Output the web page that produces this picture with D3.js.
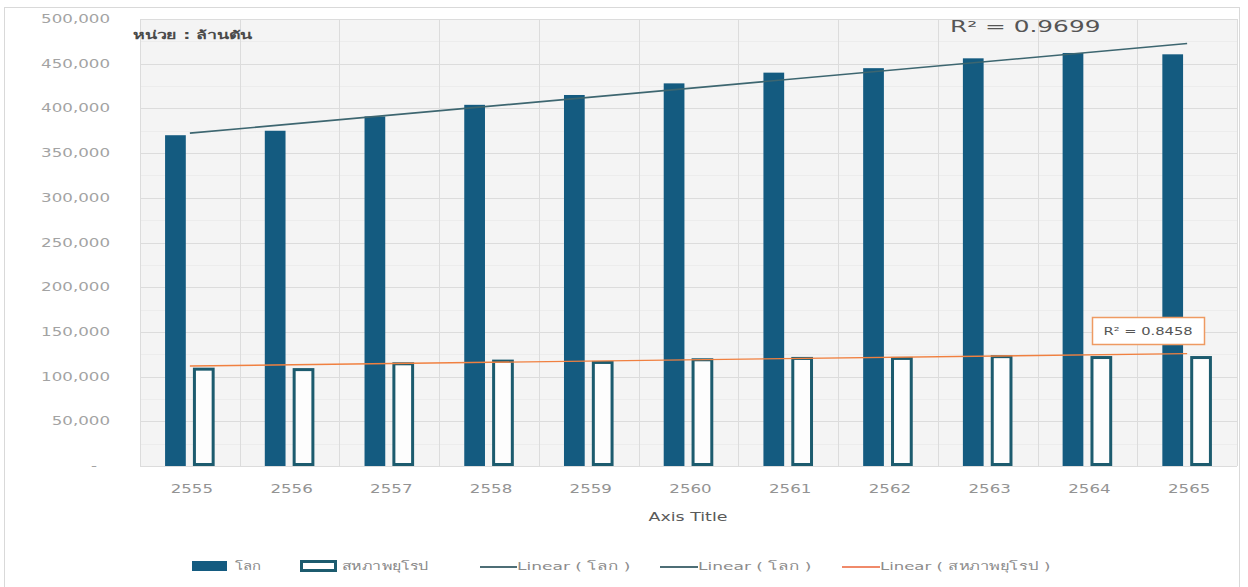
<!DOCTYPE html>
<html><head><meta charset="utf-8">
<script src="https://cdn.jsdelivr.net/npm/d3@7"></script>
<style>
html,body{margin:0;padding:0;background:#fff;}
text{font-family:"DejaVu Sans","Noto Sans",sans-serif;}
</style></head>
<body>
<svg id="chart" width="1248" height="587"></svg>
<script>
// ---- data ----
const years = ["2555","2556","2557","2558","2559","2560","2561","2562","2563","2564","2565"];
const worldValues = [370000,375000,391000,404000,415000,428000,440000,445000,456000,462000,460500];
const euValues = [110000,109500,116000,119000,117500,120500,122000,122000,124000,123000,123000];
const yTicks = [0,50000,100000,150000,200000,250000,300000,350000,400000,450000,500000];
const seriesNames = ["โลก","สหภาพยุโรป"];
const legendLabels = ["โลก","สหภาพยุโรป","Linear ( โลก )","Linear ( โลก )","Linear ( สหภาพยุโรป )"];
const r2World = "R² = 0.9699";
const r2Eu = "R² = 0.8458";
const unitLabel = "หน่วย : ล้านตัน";
const xTitle = "Axis Title";

const svg = d3.select("#chart");
const plot = {l:140, r:1237, t:19, b:466};
const SX = 1.45; // horizontal text stretch

const x = d3.scaleBand().domain(years).range([plot.l, plot.r]).padding(0);
const xi = d3.scaleBand().domain(seriesNames).range([0, x.bandwidth()]).paddingInner(0.22).paddingOuter(0.9);
const y = d3.scaleLinear().domain([0,500000]).range([plot.b, plot.t]);

function stext(g, tx, ty, str, opts){
  const t = g.append("text")
    .attr("transform", `translate(${tx},${ty}) scale(${opts.sx||SX},1)`)
    .attr("text-anchor", opts.anchor||"start")
    .attr("dominant-baseline","central")
    .attr("font-size", opts.size||11.5)
    .attr("fill", opts.fill||"#8c8c8c")
    .text(str);
  if(opts.weight) t.attr("font-weight", opts.weight);
  return t;
}

// outer border
svg.append("rect").attr("x",4.5).attr("y",7.5).attr("width",1235).attr("height",600)
  .attr("fill","#fff").attr("stroke","#d9d9d9");

// plot background
svg.append("rect").attr("x",plot.l).attr("y",plot.t).attr("width",plot.r-plot.l).attr("height",plot.b-plot.t)
  .attr("fill","#f4f4f4");

// minor horizontal grid
const gGrid = svg.append("g");
d3.range(25000,500000,50000).forEach(v=>{
  gGrid.append("line").attr("x1",plot.l).attr("x2",plot.r).attr("y1",Math.round(y(v))+0.5).attr("y2",Math.round(y(v))+0.5)
    .attr("stroke","#ececec").attr("stroke-width",1);
});
// major horizontal grid
yTicks.forEach(v=>{
  gGrid.append("line").attr("x1",plot.l).attr("x2",plot.r).attr("y1",Math.round(y(v))+0.5).attr("y2",Math.round(y(v))+0.5)
    .attr("stroke","#dcdcdc").attr("stroke-width",1);
});
// vertical grid at category boundaries
years.forEach((yr)=>{
  const xv = Math.round(x(yr))+0.5;
  gGrid.append("line").attr("x1",xv).attr("x2",xv).attr("y1",plot.t).attr("y2",plot.b)
    .attr("stroke","#dcdcdc");
});
gGrid.append("line").attr("x1",plot.r+0.5).attr("x2",plot.r+0.5).attr("y1",plot.t).attr("y2",plot.b).attr("stroke","#dcdcdc");

// y tick labels
const gY = svg.append("g");
yTicks.forEach(v=>{
  const lbl = v===0 ? "-" : d3.format(",")(v);
  stext(gY, v===0?97:110, y(v), lbl, {anchor:"end", size:11.5, fill:"#a3a3a3"});
});

// x tick labels
const gX = svg.append("g");
years.forEach(yr=>{
  stext(gX, x(yr)+x.bandwidth()/2+2, 489, yr, {anchor:"middle", size:11.5, fill:"#939393"});
});
stext(svg, 688, 517, xTitle, {anchor:"middle", size:12, fill:"#5a5a5a"});

// bars
const gBars = svg.append("g");
gBars.selectAll("rect.world").data(years).join("rect").attr("class","world")
  .attr("x", (d)=>x(d)+xi(seriesNames[0]))
  .attr("width", xi.bandwidth()-1)
  .attr("y", (d,i)=>y(worldValues[i]))
  .attr("height", (d,i)=>y(0)-y(worldValues[i]))
  .attr("fill","#145b80");
gBars.selectAll("rect.eu").data(years).join("rect").attr("class","eu")
  .attr("x", (d)=>x(d)+xi(seriesNames[1])+1.5)
  .attr("width", xi.bandwidth()-3)
  .attr("y", (d,i)=>y(euValues[i])+1.5)
  .attr("height", (d,i)=>y(0)-y(euValues[i])-3)
  .attr("fill","#fdfdfd").attr("stroke","#1c5b6e").attr("stroke-width",3);

// linear trend lines (least squares)
function linreg(vals){
  const n = vals.length, xs = d3.range(n);
  const mx = d3.mean(xs), my = d3.mean(vals);
  const b = d3.sum(xs.map((xv,i)=>(xv-mx)*(vals[i]-my))) / d3.sum(xs.map(xv=>(xv-mx)*(xv-mx)));
  const a = my - b*mx;
  return xs.map(xv=>a+b*xv);
}
const cx = d=>x(d)+x.bandwidth()/2;
const line = d3.line().x(d=>cx(d[0])).y(d=>y(d[1]));
const wFit = linreg(worldValues), eFit = linreg(euValues);
const ends = [0, years.length-1];
svg.append("path").attr("d", line(ends.map(i=>[years[i], wFit[i]])))
  .attr("stroke","#3d6670").attr("stroke-width",1.6).attr("fill","none");
svg.append("path").attr("d", line(ends.map(i=>[years[i], eFit[i]])))
  .attr("stroke","#f08040").attr("stroke-width",1.4).attr("fill","none");

// unit label
stext(svg, 133, 35, unitLabel, {size:11.5, fill:"#4a4a4a", weight:"bold", sx:1.55});

// R2 labels
stext(svg, 950, 27, r2World, {size:16, fill:"#555", sx:1.55});
svg.append("rect").attr("x",1092.5).attr("y",317.5).attr("width",112).attr("height",27)
  .attr("fill","#fff").attr("stroke","#ee9a62").attr("stroke-width",1.5);
stext(svg, 1148, 331, r2Eu, {anchor:"middle", size:10.5, fill:"#555", sx:1.4});

// legend
const gL = svg.append("g");
const ly = 566;
gL.append("rect").attr("x",192).attr("y",ly-5).attr("width",35).attr("height",10).attr("fill","#145b80");
stext(gL, 235, ly, legendLabels[0], {size:11, fill:"#888", sx:1.35});
gL.append("rect").attr("x",301.5).attr("y",ly-4.5).attr("width",34).attr("height",9).attr("fill","#fff").attr("stroke","#1c5b6e").attr("stroke-width",3);
stext(gL, 342, ly, legendLabels[1], {size:11, fill:"#888", sx:1.45});
const lineItems = [[480,517,"#4d6e76",2,1.55],[660,698,"#4d6e76",3,1.55],[842,880,"#f08a6a",4,1.5]];
lineItems.forEach(([x1,x2,c,li,s])=>{
  gL.append("line").attr("x1",x1).attr("x2",x2).attr("y1",ly+1).attr("y2",ly+1).attr("stroke",c).attr("stroke-width",1.8);
  stext(gL, x2, ly, legendLabels[li], {size:11, fill:"#8c8c8c", sx:s});
});
</script>
</body></html>
